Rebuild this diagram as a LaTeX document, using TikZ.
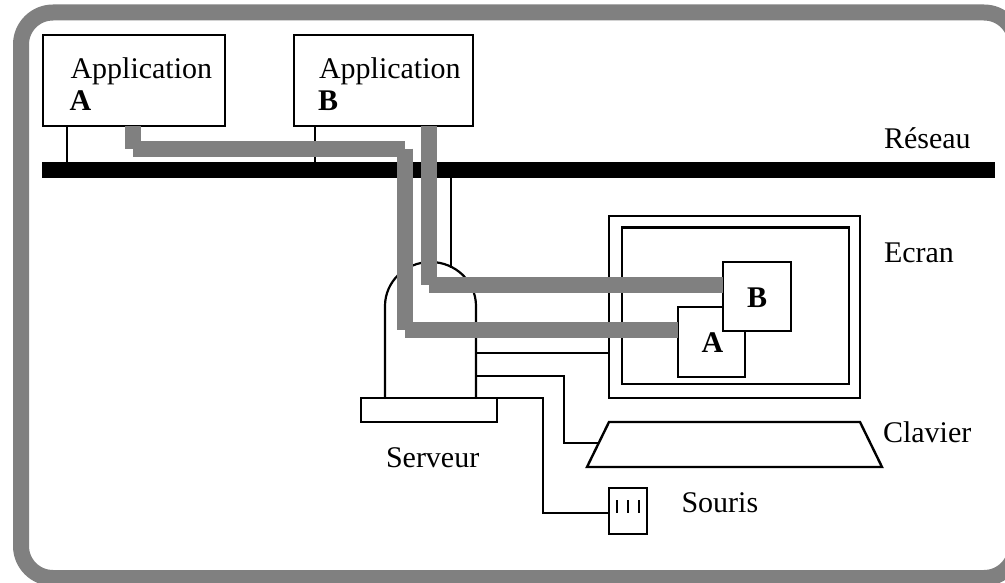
\documentclass[tikz,border=0pt]{standalone}
\usepackage{fontspec}
\setmainfont{Liberation Serif}
\definecolor{pipegray}{HTML}{808080}
\tikzset{
  wire/.style={line width=2.2pt, line join=miter, black},
  box/.style={draw=black, line width=2.4pt, fill=white, rectangle, inner sep=0pt, outer sep=0pt},
  pipe/.style={line width=16pt, pipegray, line cap=butt},
  label/.style={inner sep=0pt, outer sep=0pt, anchor=base west, font=\fontsize{30}{36}\selectfont},
  boldlabel/.style={inner sep=0pt, outer sep=0pt, font=\fontsize{30}{36}\selectfont\bfseries}
}
\begin{document}
\begin{tikzpicture}[x=1pt,y=-1pt]
\useasboundingbox (0,0) rectangle (1005,583);
\fill[white] (0,0) rectangle (1005,583);
\clip (0,0) rectangle (1005,583);
% outer frame
\draw[line width=16pt, pipegray, rounded corners=32pt] (21,12.5) rectangle (1016,578);
% network bus
\node[rectangle, fill=black, inner sep=0pt, outer sep=0pt, minimum width=953pt, minimum height=16pt] (bus) at (518.5,170) {};
% application boxes
\node[box, minimum width=182pt, minimum height=91pt] (appA) at (134,80.5) {};
\node[box, minimum width=179pt, minimum height=91pt] (appB) at (383.5,80.5) {};
\coordinate (tapA) at (67,170);
\coordinate (tapB) at (315,170);
\coordinate (tapS) at (451,170);
\coordinate (domeTap) at (451,268);
\draw[wire] (tapA |- appA.south) -- (tapA |- bus.north);
\draw[wire] (tapB |- appB.south) -- (tapB |- bus.north);
\draw[wire] (tapS |- bus.south) -- (domeTap);
% server
\node[box, minimum width=136pt, minimum height=24pt] (base) at (429,410) {};
\coordinate (srvL) at (385,398);
\coordinate (srvR) at (476,398);
\draw[wire, line cap=round] (srvL) -- (385,306) .. controls (385,281.7) and (405.4,262) .. (430.5,262) .. controls (455.6,262) and (476,281.7) .. (476,306) -- (srvR);
% screen
\node[box, minimum width=251pt, minimum height=182pt] (screen) at (734.5,307) {};
\node[box, minimum width=227pt, minimum height=156.5pt] (inner) at (735.5,305.75) {};
% keyboard
\draw[wire, line width=2.4pt] (609,422) -- (860,422) -- (882,467) -- (587,467) -- cycle;
\coordinate (kbIn) at (599,443);
% mouse
\node[box, minimum width=38pt, minimum height=46pt] (mouse) at (628,511) {};
\draw[wire] (616.7,500) -- (616.7,512.7);
\draw[wire] (628,500) -- (628,512.7);
\draw[wire] (638.7,500) -- (638.7,512.7);
% server wires
\coordinate (w1) at (476,353);
\draw[wire] (w1) -- (w1 -| screen.west);
\coordinate (w2) at (476,376);
\draw[wire] (w2) -- (564,376) -- (564,443) -- (kbIn);
\coordinate (w3) at (542.7,512.7);
\draw[wire] (srvR) -- (542.7,398) -- (w3) -- (w3 -| mouse.west);
% client windows
\node[box, minimum width=67pt, minimum height=70pt] (winA) at (711.5,342) {};
\node[box, minimum width=68pt, minimum height=69pt] (winB) at (757,296.5) {};
% grey links
\coordinate (a1) at (133,148.7);
\coordinate (a2) at (405,148.7);
\coordinate (a3) at (405,330);
\coordinate (b1) at (429.3,284.5);
\draw[pipe] (a1 |- appA.south) -- (a1);
\draw[pipe] (a1) -- (a2);
\draw[pipe] (a2) -- (a3);
\draw[pipe] (a3) -- (a3 -| winA.west);
\draw[pipe] (b1 |- appB.south) -- (b1);
\draw[pipe] (b1) -- (b1 -| winB.west);
% labels
\node[label] (lAppA) at (70.5,78.5) {Application};
\node[boldlabel, anchor=base west] (lA) at (69.5,110.5) {A};
\node[label] (lAppB) at (319,78.5) {Application};
\node[boldlabel, anchor=base west] (lB) at (318,110.5) {B};
\node[label] (lRes) at (884,149) {Réseau};
\node[label] (lEcr) at (884,262) {Ecran};
\node[label] (lCla) at (883,442) {Clavier};
\node[label] (lSer) at (386,467) {Serveur};
\node[label] (lSou) at (681.5,512) {Souris};
\node[boldlabel] (lwA) at (712.5,342.5) {A};
\node[boldlabel] (lwB) at (757,297.5) {B};
\end{tikzpicture}
\end{document}
